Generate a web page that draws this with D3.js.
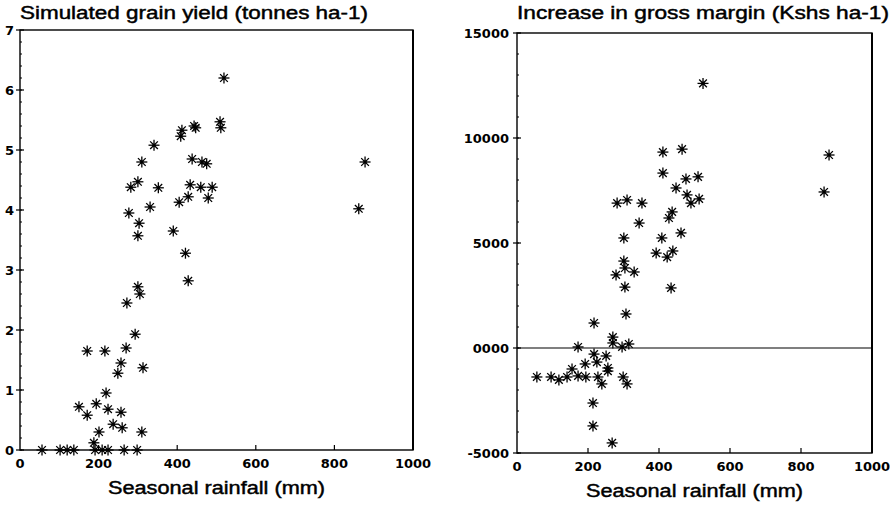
<!DOCTYPE html>
<html>
<head>
<meta charset="utf-8">
<script src="https://cdn.jsdelivr.net/npm/d3@7"></script>
<style>
    body { margin: 0; background: #fff; }
    svg { display: block; }
    text { fill: #000; }
    .tick-label { font-family: 'DejaVu Sans', sans-serif; font-weight: bold; font-size: 13px; }
    .axis-title { font-family: 'Liberation Sans', Arial, sans-serif; font-size: 18px; stroke: #000; stroke-width: 0.45px; }
</style>
</head>
<body>
<svg width="890" height="510"></svg>
<script>
// left panel: simulated grain yield (t/ha) vs seasonal rainfall (mm)
var yieldRain = [519, 412, 409, 447, 443, 509, 511, 341, 438, 463, 475, 352, 433, 460, 489,
    428, 405, 479, 331, 390, 421, 428, 878, 862, 310, 300, 282, 277, 303, 300, 300, 305,
    272, 293, 171, 216, 270, 257, 249, 313, 219, 150, 171, 194, 224, 257, 237, 260, 201,
    310, 188, 56, 102, 120, 137, 191, 209, 224, 265, 298];
var yieldVal = [6.2, 5.33, 5.23, 5.37, 5.4, 5.47, 5.37, 5.08, 4.85, 4.8, 4.77, 4.37, 4.42, 4.38, 4.38,
    4.22, 4.13, 4.2, 4.05, 3.65, 3.28, 2.82, 4.8, 4.02, 4.8, 4.47, 4.38, 3.95, 3.78, 3.57, 2.72, 2.6,
    2.45, 1.93, 1.65, 1.65, 1.7, 1.45, 1.28, 1.37, 0.95, 0.72, 0.58, 0.77, 0.68, 0.63, 0.43, 0.37, 0.3,
    0.3, 0.12, 0, 0, 0, 0, 0, 0, 0, 0, 0];

// right panel: increase in gross margin (Kshs/ha) vs seasonal rainfall (mm)
var marginRain = [411, 465, 411, 476, 510, 448, 479, 490, 513, 282, 310, 352, 437, 428, 344,
    301, 408, 462, 392, 423, 439, 301, 304, 279, 330, 304, 434, 307, 217, 270, 270, 296, 315,
    172, 217, 251, 225, 192, 155, 256, 256, 56, 96, 118, 141, 172, 194, 228, 239, 299, 310,
    214, 214, 268, 879, 865, 524];
var marginVal = [9330, 9470, 8330, 8050, 8150, 7620, 7290, 6900, 7100, 6900, 7050, 6900, 6480, 6190, 5950,
    5240, 5240, 5480, 4520, 4330, 4620, 4140, 3810, 3480, 3620, 2900, 2860, 1620, 1190, 520, 240, 50, 190,
    50, -290, -380, -670, -760, -1000, -950, -1100, -1380, -1380, -1520, -1380, -1330, -1380, -1380, -1710, -1380, -1710,
    -2620, -3710, -4520, 9190, 7430, 12600];

var rainTicks = [0, 200, 400, 600, 800, 1000];
var yieldTicks = [0, 1, 2, 3, 4, 5, 6, 7];
var marginTicks = [-5000, 0, 5000, 10000, 15000];
var marginTickLabels = ['-5000', '0000', '5000', '10000', '15000'];

var svg = d3.select('svg');

function drawPanel(opts) {
    var x = d3.scaleLinear().domain([0, 1000]).range([opts.left, opts.right]);
    var y = d3.scaleLinear().domain(opts.yDomain).range([opts.bottom, opts.top]);
    var g = svg.append('g');

    // frame
    g.append('rect')
        .attr('x', opts.left).attr('y', opts.top)
        .attr('width', opts.right - opts.left).attr('height', opts.bottom - opts.top)
        .attr('fill', 'none').attr('stroke', '#000').attr('stroke-width', 1.4);
    g.append('line')
        .attr('x1', opts.right).attr('x2', opts.right)
        .attr('y1', opts.top).attr('y2', opts.bottom)
        .attr('stroke', '#000').attr('stroke-width', 2);

    // minor ticks on y axis
    g.selectAll('line.minor')
        .data(d3.range(opts.yDomain[0], opts.yDomain[1], opts.minorStep))
        .enter().append('line')
        .attr('x1', opts.left).attr('x2', opts.left + 2)
        .attr('y1', d => y(d)).attr('y2', d => y(d))
        .attr('stroke', '#000').attr('stroke-width', 1);

    // major y ticks + labels
    g.selectAll('line.ymajor')
        .data(opts.yTicks)
        .enter().append('line')
        .attr('x1', opts.left - 4).attr('x2', opts.left + 4)
        .attr('y1', d => y(d)).attr('y2', d => y(d))
        .attr('stroke', '#000').attr('stroke-width', 1.2);
    g.selectAll('text.ylab')
        .data(opts.yTicks)
        .enter().append('text')
        .attr('class', 'tick-label')
        .attr('x', opts.left - opts.labelGap)
        .attr('y', d => y(d) + 4.5)
        .attr('text-anchor', 'end')
        .text((d, i) => opts.yLabels[i]);

    // x ticks (inward) + labels
    g.selectAll('line.xtick')
        .data(rainTicks.slice(1, -1))
        .enter().append('line')
        .attr('x1', d => x(d)).attr('x2', d => x(d))
        .attr('y1', opts.bottom).attr('y2', opts.bottom - 5)
        .attr('stroke', '#000').attr('stroke-width', 1.2);
    g.selectAll('text.xlab')
        .data(rainTicks)
        .enter().append('text')
        .attr('class', 'tick-label')
        .attr('x', d => x(d))
        .attr('y', opts.bottom + 18)
        .attr('text-anchor', 'middle')
        .text(d => d);

    // zero line
    if (opts.zeroLine) {
        g.append('line')
            .attr('x1', opts.left).attr('x2', opts.right)
            .attr('y1', y(0)).attr('y2', y(0))
            .attr('stroke', '#000').attr('stroke-width', 1.2);
    }

    // titles
    g.append('text')
        .attr('class', 'axis-title')
        .attr('x', opts.left).attr('y', 19)
        .attr('textLength', opts.titleWidth)
        .attr('lengthAdjust', 'spacingAndGlyphs')
        .text(opts.title);
    g.append('text')
        .attr('class', 'axis-title')
        .attr('x', (opts.left + opts.right) / 2).attr('y', opts.bottom + 44)
        .attr('text-anchor', 'middle')
        .attr('textLength', 217)
        .attr('lengthAdjust', 'spacingAndGlyphs')
        .text('Seasonal rainfall (mm)');

    // asterisk markers
    var pts = g.selectAll('g.pt')
        .data(opts.xs.map((d, i) => [d, opts.ys[i]]))
        .enter().append('g')
        .attr('transform', d => 'translate(' + x(d[0]) + ',' + y(d[1]) + ')');
    var r = 5.5;
    [[-r, 0, r, 0], [0, -r, 0, r], [-0.7 * r, -0.7 * r, 0.7 * r, 0.7 * r], [-0.7 * r, 0.7 * r, 0.7 * r, -0.7 * r]]
        .forEach(s => {
            pts.append('line')
                .attr('x1', s[0]).attr('y1', s[1]).attr('x2', s[2]).attr('y2', s[3])
                .attr('stroke', '#000').attr('stroke-width', 1.3);
        });
    pts.append('circle').attr('r', 1.8).attr('fill', '#000');
}

drawPanel({
    left: 20, right: 413, top: 30, bottom: 450,
    yDomain: [0, 7], yTicks: yieldTicks, yLabels: yieldTicks.map(String),
    minorStep: 0.2, labelGap: 6,
    xs: yieldRain, ys: yieldVal,
    title: 'Simulated grain yield (tonnes ha-1)', titleWidth: 348,
    zeroLine: false
});

drawPanel({
    left: 517, right: 872, top: 33, bottom: 453,
    yDomain: [-5000, 15000], yTicks: marginTicks, yLabels: marginTickLabels,
    minorStep: 1000, labelGap: 8,
    xs: marginRain, ys: marginVal,
    title: 'Increase in gross margin (Kshs ha-1)', titleWidth: 372,
    zeroLine: true
});
</script>
</body>
</html>
